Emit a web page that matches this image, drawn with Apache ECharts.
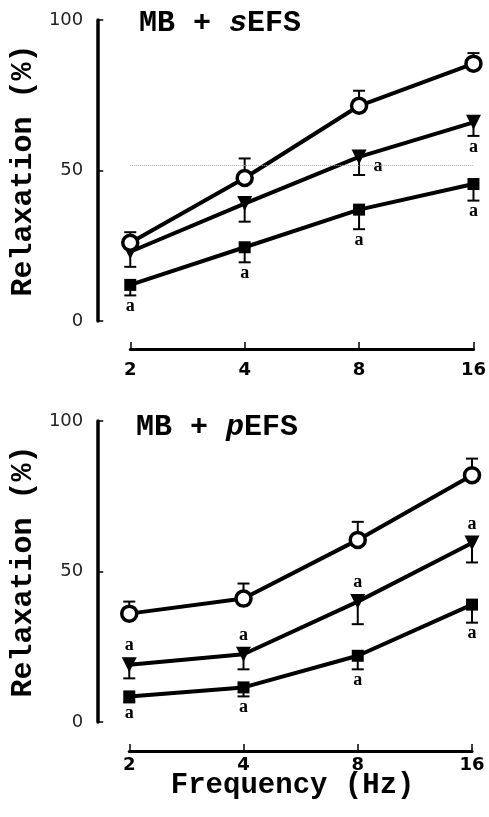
<!DOCTYPE html>
<html>
<head>
<meta charset="utf-8">
<script src="https://cdn.jsdelivr.net/npm/echarts@6/dist/echarts.min.js"></script>
<style>html,body{margin:0;padding:0;background:#fff;}#chart{width:489px;height:817px;}</style>
</head>
<body>
<div id="chart"></div>
<script>
// Categories (stimulation frequency, Hz)
const freqs = ['2', '4', '8', '16'];
const yTicks = [0, 50, 100];

// Top panel: MB + sEFS
const sOpen = [26, 47.5, 71.5, 85.5];
const sOpenErr = [29.5, 54, 76.5, 89];
const sTri = [23, 39, 54.5, 66];
const sTriErr = [18, 33, 48.5, 61.5];
const sSq = [12, 24.5, 37, 45.5];
const sSqErr = [8.5, 19.5, 30.5, 40];
const sOpenSig = ['', '', '', ''];
const sTriSig = ['', '', 'right', 'below'];
const sSqSig = ['below', 'below', 'below', 'below'];
const sRefLine = 51.7;

// Bottom panel: MB + pEFS
const pOpen = [36, 41, 60.5, 82];
const pOpenErr = [40, 46, 66.5, 87.5];
const pTri = [19, 22.5, 40, 59.5];
const pTriErr = [14.5, 17.5, 32.5, 53];
const pSq = [8.5, 11.5, 22, 39];
const pSqErr = [6.5, 8.5, 17.5, 33];
const pOpenSig = ['', '', '', ''];
const pTriSig = ['above', 'above', 'above', 'above'];
const pSqSig = ['below', 'below', 'below', 'below'];

const MONO = '"Liberation Mono", "DejaVu Sans Mono", monospace';
const SANS = '"DejaVu Sans", "Liberation Sans", Arial, sans-serif';
const SIGFONT = 'bold 18px "Liberation Serif", serif';

function errSeries(idx, vals, errs, sig) {
  return {
    type: 'custom', xAxisIndex: idx, yAxisIndex: idx, z: 1, silent: true,
    data: vals.map((v, i) => [i, v, errs[i]]),
    renderItem: function (params, api) {
      const p = api.coord([api.value(0), api.value(1)]);
      const e = api.coord([api.value(0), api.value(2)]);
      const s = sig[params.dataIndex];
      const children = [
        { type: 'line', shape: { x1: p[0], y1: p[1], x2: e[0], y2: e[1] }, style: { stroke: '#000', lineWidth: 2 } },
        { type: 'line', shape: { x1: e[0] - 6, y1: e[1], x2: e[0] + 6, y2: e[1] }, style: { stroke: '#000', lineWidth: 2 } }
      ];
      let tx = null, ty = null;
      const down = e[1] > p[1];
      if (s === 'below') { tx = e[0]; ty = (down ? e[1] : p[1] + 8) + 11; }
      else if (s === 'above') { tx = p[0]; ty = (down ? p[1] - 8 : e[1]) - 11; }
      else if (s === 'right') { tx = p[0] + 19; ty = (p[1] + e[1]) / 2; }
      if (tx !== null) {
        children.push({ type: 'text', style: { text: 'a', x: tx, y: ty, font: SIGFONT, fill: '#000', align: 'center', verticalAlign: 'middle' } });
      }
      return { type: 'group', children: children };
    }
  };
}

function lineSeries(idx, vals, symbol, size, fill, extra) {
  return Object.assign({
    type: 'line', xAxisIndex: idx, yAxisIndex: idx, z: 3,
    data: vals, symbol: symbol, symbolSize: size, showSymbol: true,
    symbolRotate: symbol === 'triangle' ? 180 : 0,
    lineStyle: { color: '#000', width: 4 },
    itemStyle: { color: fill, borderColor: '#000', borderWidth: fill === '#fff' ? 3.5 : 0, opacity: 1 },
    animation: false, silent: true
  }, extra || {});
}

function xAxis(idx, offset, withName, labelMargin) {
  const ax = {
    type: 'category', gridIndex: idx, data: freqs, boundaryGap: false, offset: offset,
    axisLine: { onZero: false, lineStyle: { color: '#000', width: 3 } },
    axisTick: { inside: true, length: 7, lineStyle: { color: '#000', width: 1.5 } },
    axisLabel: { color: '#000', fontFamily: SANS, fontWeight: 'bold', fontSize: 18, margin: labelMargin },
    splitLine: { show: false }
  };
  if (withName) {
    ax.name = 'Frequency (Hz)';
    ax.nameLocation = 'middle';
    ax.nameGap = 35;
    ax.nameMoveOverlap = false;
    ax.nameTextStyle = { fontFamily: MONO, fontWeight: 'bold', fontSize: 29, color: '#000', verticalAlign: 'middle', padding: [0, 16, 0, 0] };
  }
  return ax;
}

function yAxis(idx, offset, gap) {
  return {
    type: 'value', gridIndex: idx, min: yTicks[0], max: yTicks[yTicks.length - 1], interval: 50, offset: offset,
    name: 'Relaxation (%)', nameLocation: 'middle', nameGap: gap,
    nameTextStyle: { fontFamily: MONO, fontWeight: 'bold', fontSize: 30, color: '#000' },
    axisLine: { show: true, onZero: false, lineStyle: { color: '#000', width: 3.5 } },
    axisTick: { show: true, inside: true, length: 6, lineStyle: { color: '#000', width: 1.5 } },
    axisLabel: { color: '#222', fontFamily: SANS, fontSize: 18, margin: 14 },
    splitLine: { show: false }
  };
}

function titleRich(letter, top, left) {
  return {
    text: '{n|MB + }{i|' + letter + '}{n|EFS}', left: left, top: top,
    textStyle: {
      rich: {
        n: { fontFamily: MONO, fontWeight: 'bold', fontSize: 30, color: '#000' },
        i: { fontFamily: MONO, fontWeight: 'bold', fontStyle: 'italic', fontSize: 30, color: '#000' }
      }
    }
  };
}

const chart = echarts.init(document.getElementById('chart'), null, { renderer: 'canvas' });
chart.setOption({
  animation: false,
  backgroundColor: '#fff',
  title: [titleRich('s', 3, 134), titleRich('p', 407, 131)],
  grid: [
    { left: 130, right: 12, top: 20, height: 301, containLabel: false },
    { left: 124, right: 17, top: 421, height: 301, containLabel: false }
  ],
  xAxis: [xAxis(0, 28, false, 12), xAxis(1, 29, true, 5)],
  yAxis: [yAxis(0, 33, 58), yAxis(1, 32, 53)],
  series: [
    errSeries(0, sOpen, sOpenErr, sOpenSig),
    errSeries(0, sTri, sTriErr, sTriSig),
    errSeries(0, sSq, sSqErr, sSqSig),
    lineSeries(0, sSq, 'rect', 12, '#000'),
    lineSeries(0, sTri, 'triangle', 15, '#000'),
    lineSeries(0, sOpen, 'circle', 15, '#fff', {
      markLine: { silent: true, symbol: 'none', label: { show: false },
        lineStyle: { color: '#aaa', type: 'dotted', width: 1 }, data: [{ yAxis: sRefLine }] }
    }),
    errSeries(1, pOpen, pOpenErr, pOpenSig),
    errSeries(1, pTri, pTriErr, pTriSig),
    errSeries(1, pSq, pSqErr, pSqSig),
    lineSeries(1, pSq, 'rect', 12, '#000'),
    lineSeries(1, pTri, 'triangle', 15, '#000'),
    lineSeries(1, pOpen, 'circle', 15, '#fff')
  ]
});
</script>
</body>
</html>
